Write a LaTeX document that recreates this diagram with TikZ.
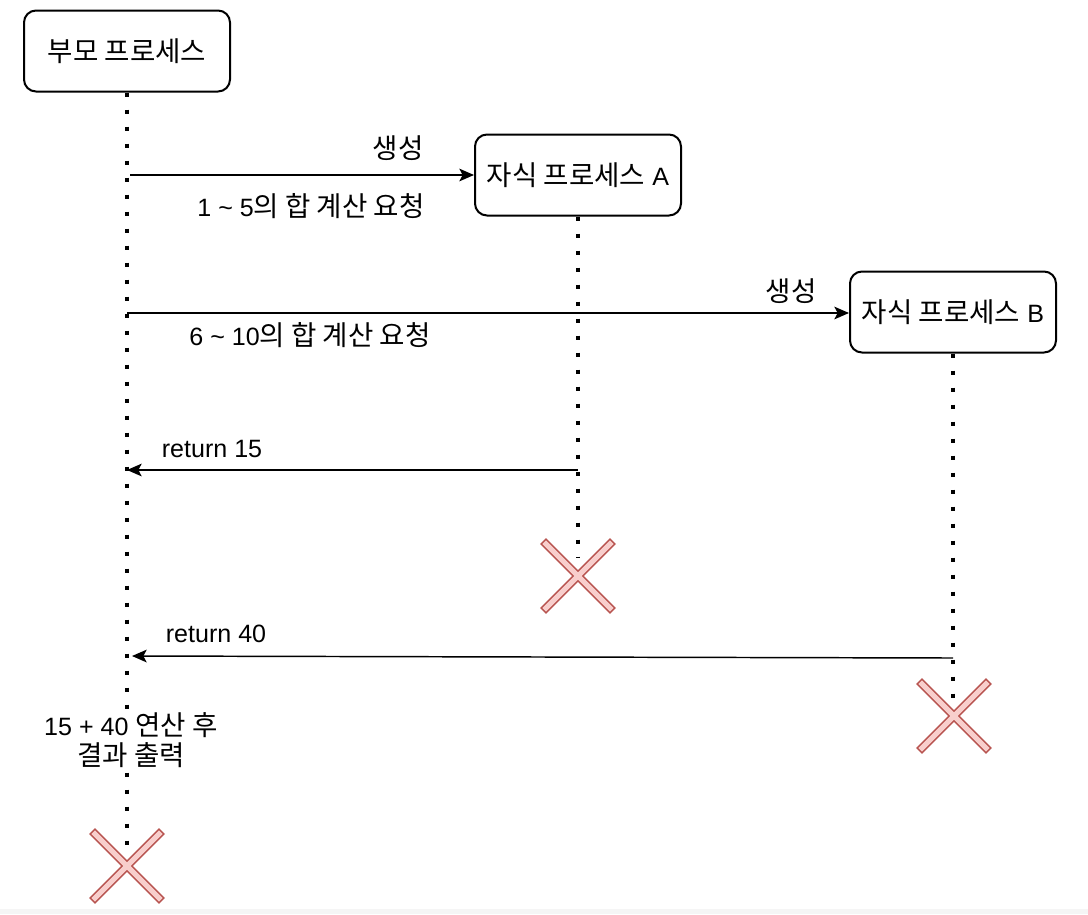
\documentclass[tikz,border=0pt]{standalone}
\usepackage{fontspec}
\setmainfont{Liberation Sans}
\newfontfamily\kr[Scale=1.1]{Noto Sans CJK KR}
\usetikzlibrary{arrows.meta}
\definecolor{xstroke}{HTML}{B85450}
\definecolor{xfill}{HTML}{F8CECC}
\begin{document}
\begin{tikzpicture}[x=0.75pt,y=-0.75pt,
  proc/.style={draw, line width=1.5pt, rounded corners=9pt, minimum width=154.5pt, minimum height=60.75pt, inner sep=0pt, font=\fontsize{18.8}{22}\selectfont},
  lbl/.style={inner sep=0pt, font=\fontsize{18.8}{22}\selectfont},
  life/.style={line width=3pt, dash pattern=on 3pt off 9.75pt},
  msg/.style={line width=1.1pt, -{Stealth[length=11pt,width=9.5pt,inset=2.5pt]}},
  killx/.pic={
    \draw[xstroke, line width=6.2pt, line cap=rect] (-32,-32) -- (32,32) (-32,32) -- (32,-32);
    \draw[xfill, line width=3.9pt, line cap=rect] (-32,-32) -- (32,32) (-32,32) -- (32,-32);
  }
]
\useasboundingbox[fill=white] (0,0) rectangle (1088,914);
\fill[black!4] (0,909) rectangle (1088,914);

% processes
\node[proc] (P) at (127,51) {\kr 부모 프로세스};
\node[proc] (A) at (578,175) {{\kr 자식 프로세스} A};
\node[proc] (B) at (953,312) {{\kr 자식 프로세스} B};

% lifeline ends
\coordinate (Pend) at (127,850);
\coordinate (Aend) at (578,558);
\coordinate (Bend) at (953,708);

\draw[life] (P.south) -- (Pend);
\draw[life] (A.south) -- (Aend);
\draw[life] (B.south) -- (Bend);

% result text
\node[lbl, fill=white, align=center, inner sep=2pt] (R) at (131,740) {15 + 40 {\kr 연산 후}\\[0pt]{\kr 결과 출력}};

% messages
\coordinate (m1s) at (130,175);
\draw[msg] (m1s) -- (A.west);
\node[lbl] (l1a) at (398,148) {\kr 생성};
\node[lbl] (l1b) at (311,206) {1 \char`\~{} 5{\kr 의 합 계산 요청}};

\coordinate (m2s) at (127,313);
\draw[msg] (m2s) -- (B.west |- m2s);
\node[lbl] (l2a) at (791,291) {\kr 생성};
\node[lbl] (l2b) at (310,335) {6 \char`\~{} 10{\kr 의 합 계산 요청}};

\coordinate (m3s) at (578,470);
\coordinate (m3e) at (127,470);
\draw[msg] (m3s) -- (m3e);
\node[lbl] (l3) at (212,449) {return 15};

\coordinate (m4s) at (953,658);
\coordinate (m4e) at (132,656);
\draw[msg] (m4s) -- (m4e);
\node[lbl] (l4) at (216,634) {return 40};

% terminations
\pic at (578,576) {killx};
\pic at (954,716) {killx};
\pic at (127,866) {killx};
\end{tikzpicture}
\end{document}
